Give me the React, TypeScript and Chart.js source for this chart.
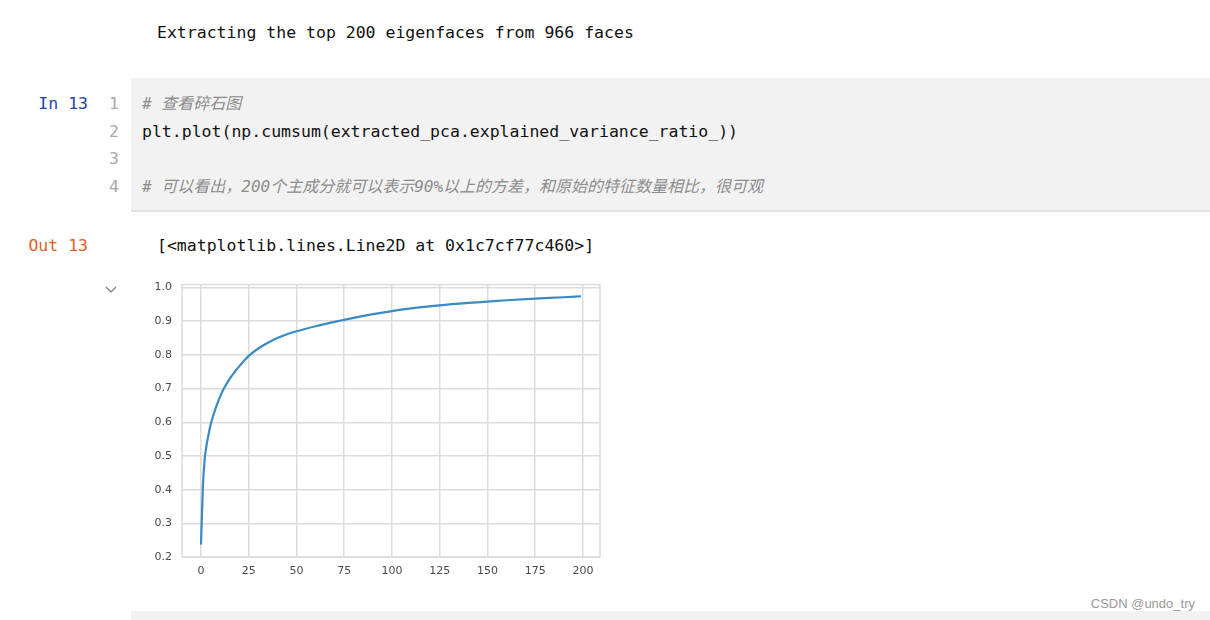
import React, { useEffect, useRef } from "react";
import { Chart, registerables } from "chart.js";

Chart.register(...registerables);

// Component index (principal components) sampled along the curve
const componentIndex = [0, 1, 2, 3, 4, 5, 6, 7, 8, 9, 10, 11, 12, 14, 16, 18, 20, 22, 25, 30, 35, 40, 45, 50, 60, 70, 75, 80, 90, 100, 110, 125, 140, 150, 160, 175, 190, 199];
// Cumulative explained variance ratio
const cumulativeVariance = [0.237, 0.41, 0.495, 0.535, 0.565, 0.592, 0.612, 0.63, 0.647, 0.662, 0.676, 0.689, 0.70, 0.72, 0.737, 0.752, 0.766, 0.779, 0.797, 0.819, 0.836, 0.85, 0.861, 0.87, 0.885, 0.898, 0.904, 0.91, 0.921, 0.93, 0.938, 0.947, 0.954, 0.958, 0.962, 0.967, 0.971, 0.974];
const xTicks = [0, 25, 50, 75, 100, 125, 150, 175, 200];
const yTicks = [0.2, 0.3, 0.4, 0.5, 0.6, 0.7, 0.8, 0.9, 1.0];

const codeLines = [
  "# 查看碎石图",
  "plt.plot(np.cumsum(extracted_pca.explained_variance_ratio_))",
  "",
  "# 可以看出，200个主成分就可以表示90%以上的方差，和原始的特征数量相比，很可观",
];

const MONO = "'DejaVu Sans Mono', 'Noto Sans CJK SC', monospace";

function PlotChart() {
  const ref = useRef<HTMLCanvasElement | null>(null);
  useEffect(() => {
    if (!ref.current) return;
    const gridColor = "#dcdcdc";
    const boxPlugin = {
      id: "box",
      beforeDatasetsDraw(chart: any) {
        const { ctx, chartArea } = chart;
        ctx.save();
        ctx.strokeStyle = gridColor;
        ctx.lineWidth = 1.5;
        ctx.strokeRect(chartArea.left, chartArea.top, chartArea.right - chartArea.left, chartArea.bottom - chartArea.top);
        ctx.restore();
      },
    };
    const chart = new Chart(ref.current, {
      type: "line",
      data: {
        datasets: [
          {
            data: componentIndex.map((x, i) => ({ x, y: cumulativeVariance[i] })),
            borderColor: "#3a8ac4",
            borderWidth: 2.2,
            pointRadius: 0,
            fill: false,
            cubicInterpolationMode: "monotone",
          },
        ],
      },
      options: {
        animation: false,
        responsive: false,
        maintainAspectRatio: false,
        layout: { padding: { top: 5, right: 10, left: 0, bottom: 0 } },
        plugins: { legend: { display: false }, tooltip: { enabled: false } },
        scales: {
          x: {
            type: "linear",
            min: -9.95,
            max: 208.95,
            afterBuildTicks: (s: any) => {
              s.ticks = xTicks.map((v) => ({ value: v }));
            },
            afterFit: (s: any) => {
              s.height = 28;
            },
            grid: { color: gridColor, lineWidth: 1.5, drawTicks: false },
            border: { display: false },
            ticks: {
              padding: 8,
              color: "#4a4a4a",
              font: { family: "'DejaVu Sans', sans-serif", size: 11 },
              callback: (v: any) => String(v),
              maxRotation: 0,
              autoSkip: false,
            },
          },
          y: {
            type: "linear",
            min: 0.2003,
            max: 1.0085,
            afterBuildTicks: (s: any) => {
              s.ticks = yTicks.map((v) => ({ value: v }));
            },
            afterFit: (s: any) => {
              s.width = 42;
            },
            grid: { color: gridColor, lineWidth: 1.5, drawTicks: false },
            border: { display: false },
            ticks: {
              padding: 10,
              color: "#4a4a4a",
              font: { family: "'DejaVu Sans', sans-serif", size: 11 },
              callback: (v: any) => Number(v).toFixed(1),
              autoSkip: false,
            },
          },
        },
      },
      plugins: [boxPlugin],
    } as any);
    return () => chart.destroy();
  }, []);
  return (
    <canvas
      ref={ref}
      width={470}
      height={317}
      style={{ position: "absolute", left: 140, top: 268, width: 470, height: 317 }}
    />
  );
}

export default function App() {
  const lineTop = (c: number) => c - 14;
  const codeCenters = [104, 132, 159, 187];
  return (
    <div
      style={{
        position: "absolute",
        left: 0,
        top: 0,
        width: 1210,
        height: 620,
        background: "#ffffff",
        overflow: "hidden",
        fontFamily: MONO,
      }}
    >
      <div
        style={{ position: "absolute", left: 157, top: lineTop(33), lineHeight: "28px", fontSize: 16.5, color: "#111" }}
      >
        Extracting the top 200 eigenfaces from 966 faces
      </div>

      {/* code cell */}
      <div style={{ position: "absolute", left: 131, top: 78, width: 1079, height: 133, background: "#f2f2f2" }} />
      <div style={{ position: "absolute", left: 131, top: 210, width: 1079, height: 2, background: "#e2e2e2" }} />
      <div
        style={{ position: "absolute", left: 30, width: 58, textAlign: "right", top: lineTop(104), lineHeight: "28px", fontSize: 16.5, color: "#2241b0" }}
      >
        In 13
      </div>
      {codeLines.map((t, i) => (
        <React.Fragment key={i}>
          <div
            style={{ position: "absolute", left: 95, width: 24, textAlign: "right", top: lineTop(codeCenters[i]), lineHeight: "28px", fontSize: 16.5, color: "#a8a8a8" }}
          >
            {i + 1}
          </div>
          <div
            style={{
              position: "absolute",
              left: 142,
              top: lineTop(codeCenters[i]),
              lineHeight: "28px",
              fontSize: t.startsWith("#") ? 16 : 16.5,
              whiteSpace: "pre",
              color: t.startsWith("#") ? "#8c8c8c" : "#111",
              fontStyle: t.startsWith("#") ? "italic" : "normal",
            }}
          >
            {t}
          </div>
        </React.Fragment>
      ))}

      {/* output */}
      <div
        style={{ position: "absolute", left: 20, width: 68, textAlign: "right", top: lineTop(246), lineHeight: "28px", fontSize: 16.5, color: "#e0602a" }}
      >
        Out 13
      </div>
      <div style={{ position: "absolute", left: 157, top: lineTop(246), lineHeight: "28px", fontSize: 16.5, color: "#111" }}>
        {"[<matplotlib.lines.Line2D at 0x1c7cf77c460>]"}
      </div>
      <svg style={{ position: "absolute", left: 104, top: 284 }} width={14} height={10}>
        <polyline points="2,3 7,8 12,3" fill="none" stroke="#777" strokeWidth={1.2} />
      </svg>

      <PlotChart />

      <div style={{ position: "absolute", left: 131, top: 611, width: 1079, height: 9, background: "#f2f2f2" }} />
      <div
        style={{ position: "absolute", right: 15, top: 596, fontFamily: "'Liberation Sans', Arial, sans-serif", fontSize: 13, color: "#999", lineHeight: "16px" }}
      >
        CSDN @undo_try
      </div>
    </div>
  );
}
